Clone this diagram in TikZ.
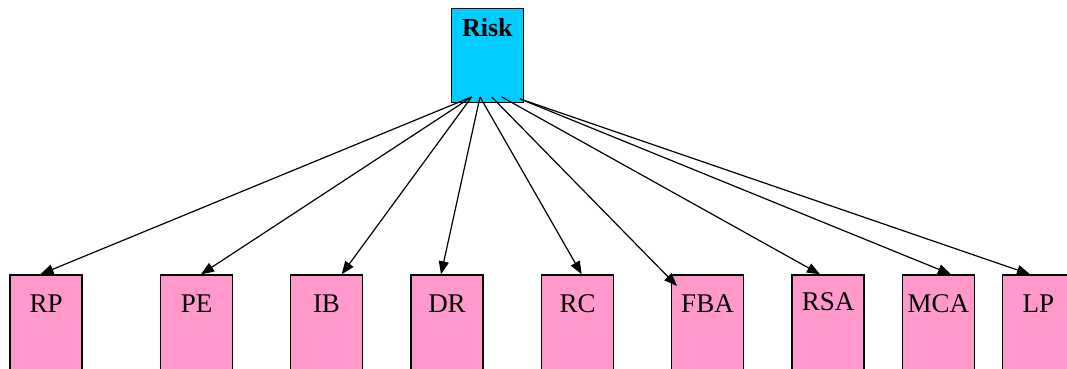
\documentclass[tikz,border=0pt]{standalone}
\usepackage{fontspec}
\setmainfont{Liberation Serif}
\usetikzlibrary{arrows.meta}
\definecolor{riskcyan}{RGB}{0,204,255}
\definecolor{leafpink}{RGB}{255,153,204}
\begin{document}
\begin{tikzpicture}[x=1pt,y=-1pt,
  box/.style={draw=black, line width=1.5pt, inner sep=0pt, minimum width=72pt, anchor=north, font=\fontsize{27}{30}\selectfont},
  riskbox/.style={box, fill=riskcyan, text height=28pt, text depth=66pt, font=\bfseries\fontsize{26}{30}\selectfont},
  leaf/.style={box, fill=leafpink, text height=37.4pt, text depth=70pt},
  edge/.style={line width=1.2pt, -{Triangle[length=13pt,width=10pt]}}
]
\useasboundingbox (0,0) rectangle (1067,368);
\clip (0,0) rectangle (1067,368);
\node[riskbox] (Risk) at (487.3,7.7) {Risk};
\node[leaf] (RP)  at (46.2,274.3)  {RP};
\node[leaf] (PE)  at (196.7,274.3) {PE};
\node[leaf] (IB)  at (326.5,274.3) {IB};
\node[leaf] (DR)  at (447,274.3)   {DR};
\node[leaf] (RC)  at (577.5,274.3) {RC};
\node[leaf] (FBA) at (707.5,274.3) {FBA};
\node[leaf, text height=35.4pt] (RSA) at (828,274.3) {RSA};
\node[leaf] (MCA) at (938.3,274.3) {MCA};
\node[leaf] (LP)  at (1038.3,274.3) {LP};
\draw[edge] ([shift={(-15.6,-6.3)}]Risk.south) -- ([shift={(-5.7,0)}]RP.north);
\draw[edge] ([shift={(-15.6,-6.3)}]Risk.south) -- ([shift={(4.3,0)}]PE.north);
\draw[edge] ([shift={(-15.6,-6.3)}]Risk.south) -- ([shift={(15.2,0)}]IB.north);
\draw[edge] ([shift={(-7.3,-6.3)}]Risk.south) -- ([shift={(-6,0)}]DR.north);
\draw[edge] ([shift={(-7.3,-6.3)}]Risk.south) -- ([shift={(4.2,0)}]RC.north);
\draw[edge] ([shift={(4.4,-6.3)}]Risk.south) -- ([shift={(-30.5,11.7)}]FBA.north);
\draw[edge] ([shift={(14.4,-6.3)}]Risk.south) -- ([shift={(-8,0)}]RSA.north);
\draw[edge] ([shift={(32.7,-4.3)}]Risk.south) -- ([shift={(12.7,0)}]MCA.north);
\draw[edge] ([shift={(32.7,-4.3)}]Risk.south) -- ([shift={(-8.3,0)}]LP.north);
\end{tikzpicture}
\end{document}
